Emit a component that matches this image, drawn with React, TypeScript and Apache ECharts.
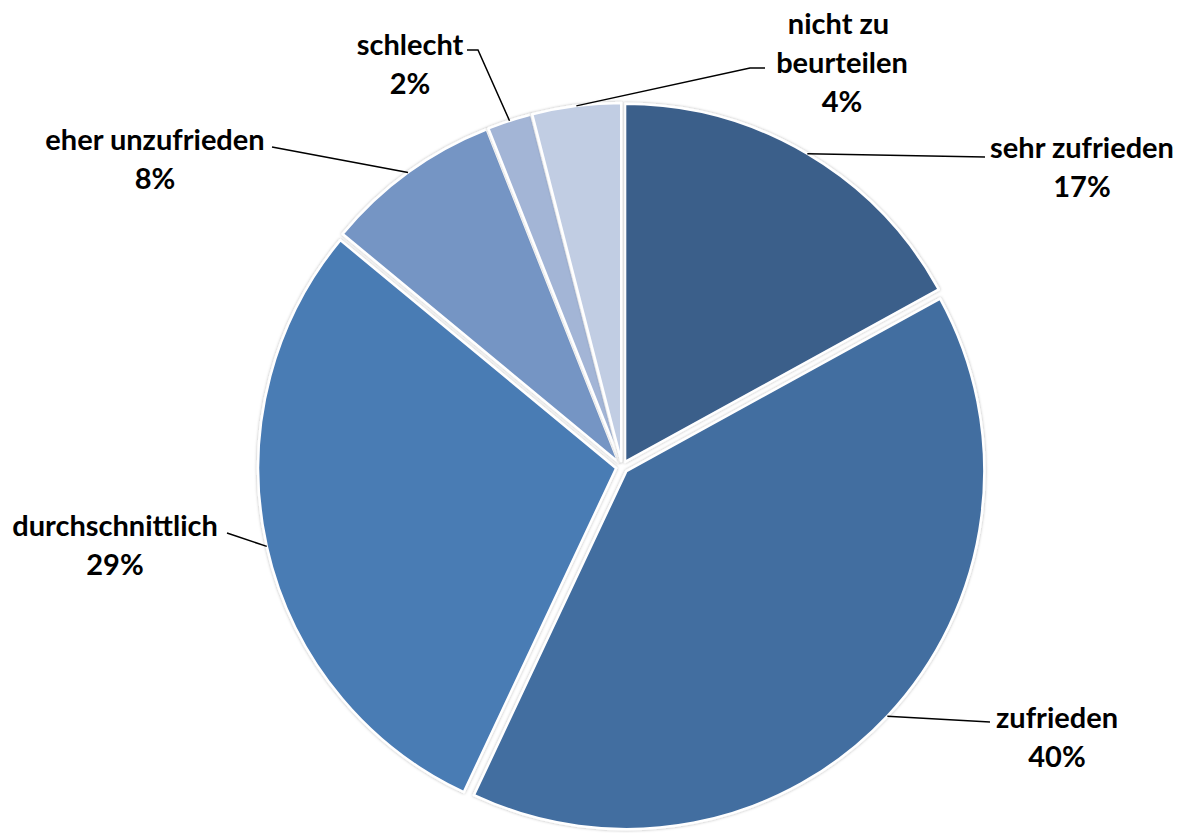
import React, { useEffect, useRef } from "react";
import * as echarts from "echarts";

const categories = [
  "sehr zufrieden",
  "zufrieden",
  "durchschnittlich",
  "eher unzufrieden",
  "schlecht",
  "nicht zu beurteilen",
];
const values = [17, 40, 29, 8, 2, 4];
const colors = ["#3b5e8a", "#436ea0", "#4a7bb4", "#7595c4", "#a3b5d6", "#c1cde3"];

// label placement: [centerX, topY, lineEndX, lineEndY, elbowX]
const labelPlace: number[][] = [
  [1082, 127, 985, 157, 985],
  [1057, 697, 990, 722, 990],
  [115, 505, 227, 533, 227],
  [155, 119, 272, 147, 272],
  [410, 24, 467, 50, 478],
  [842, 3, 765, 68, 750],
];
const EXPLODE = 6;

export default function App() {
  const ref = useRef<HTMLDivElement>(null);
  useEffect(() => {
    const chart = echarts.init(ref.current!, undefined, { renderer: "svg" });
    const base = {
      type: "pie",
      center: [622, 467],
      radius: 358,
      startAngle: 90,
      clockwise: true,
      avoidLabelOverlap: false,
      emphasis: { disabled: true },
    };
    chart.setOption({
      animation: false,
      backgroundColor: "#ffffff",
      series: [
        {
          ...base,
          selectedMode: "multiple",
          selectedOffset: EXPLODE,
          itemStyle: {
            borderColor: "#ffffff",
            borderWidth: 2.5,
            shadowBlur: 3,
            shadowColor: "rgba(0,0,0,0.3)",
          },
          label: { show: false },
          labelLine: { show: false },
          data: categories.map((name, i) => ({
            name,
            value: values[i],
            selected: true,
            itemStyle: { color: colors[i] },
          })),
        },
        {
          ...base,
          silent: true,
          z: 3,
          itemStyle: { color: "rgba(0,0,0,0)", borderWidth: 0 },
          label: {
            show: true,
            formatter: "{b}\n{d}%",
            fontFamily: "Lato",
            fontWeight: "bold",
            fontSize: 29,
            lineHeight: 39,
            color: "#000000",
            align: "center",
          },
          labelLine: {
            show: true,
            lineStyle: { color: "#000000", width: 1.5 },
          },
          labelLayout: (params: any) => {
            const p = labelPlace[params.dataIndex];
            let start = [p[2], p[3]];
            const pts = params.labelLinePoints;
            if (pts && pts.length > 1) {
              const dx = pts[1][0] - pts[0][0];
              const dy = pts[1][1] - pts[0][1];
              const len = Math.sqrt(dx * dx + dy * dy) || 1;
              start = [pts[0][0] + (dx / len) * EXPLODE, pts[0][1] + (dy / len) * EXPLODE];
            }
            return {
              x: p[0],
              y: p[1],
              align: "center",
              verticalAlign: "top",
              labelLinePoints: [start, [p[4], p[3]], [p[2], p[3]]],
            };
          },
          data: categories.map((name, i) => ({
            name,
            value: values[i],
            label: i === 5 ? { width: 170, overflow: "break" } : undefined,
          })),
        },
      ],
    });
    return () => chart.dispose();
  }, []);
  return (
    <div
      ref={ref}
      style={{ position: "fixed", left: 0, top: 0, width: 1184, height: 833 }}
    />
  );
}
